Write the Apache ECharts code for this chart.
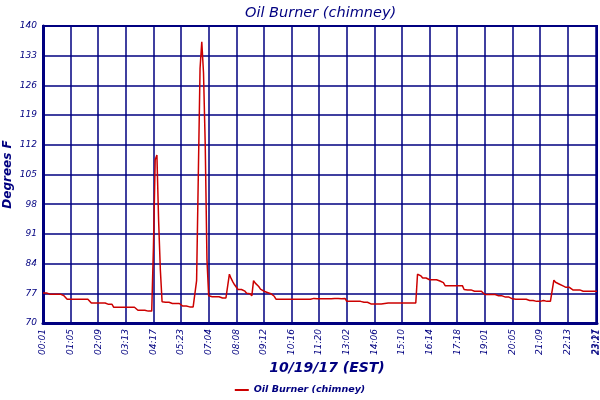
<!DOCTYPE html>
<html>
<head>
<meta charset="utf-8">
<title>Oil Burner (chimney)</title>
<script src="https://cdn.jsdelivr.net/npm/echarts@6.0.0/dist/echarts.min.js"></script>
<style>
  html, body { margin: 0; padding: 0; background: #fff; }
  #chart { width: 600px; height: 400px; }
</style>
</head>
<body>
<div id="chart"></div>
<script>
// tick labels on the x axis, one every 16 samples (4 min per sample), plus the last one
var tickLabels = ['00:01', '01:05', '02:09', '03:13', '04:17', '05:23', '07:04', '08:08', '09:12', '10:16',
  '11:20', '13:02', '14:06', '15:10', '16:14', '17:18', '19:01', '20:05', '21:09', '22:13', '23:17'];
var lastLabel = '23:21';
var samplesPerTick = 16;

// chimney temperature, degrees F
var temps = [
  77.1, 77.1, 77.1, 77.1, 76.8, 76.8, 76.8, 76.8, 76.8, 76.8, 76.8, 76.5, 76.5, 76.5, 75.6, 75.6,
  75.6, 75.6, 75.6, 75.6, 75.6, 75.6, 75.6, 75.6, 75.6, 75.6, 75.6, 75.3, 74.7, 74.7, 74.7, 74.7,
  74.7, 74.7, 74.7, 74.7, 74.7, 74.4, 74.4, 74.4, 74.4, 73.7, 73.7, 73.7, 73.7, 73.7, 73.7, 73.7,
  73.9, 73.7, 73.7, 73.7, 73.7, 73.7, 73.7, 73.0, 73.0, 73.0, 73.0, 73.0, 72.8, 72.8, 72.8, 72.8,
  88.0, 108.5, 109.6, 94.0, 82.5, 75.0, 74.9, 74.9, 74.9, 74.9, 74.6, 74.6, 74.6, 74.6, 74.6, 74.6,
  74.6, 74.0, 74.0, 74.0, 73.8, 73.8, 73.8, 73.8, 73.8, 80.0, 105.0, 130.0, 136.3, 129.0, 112.0, 85.0,
  76.4, 76.2, 76.2, 76.2, 76.2, 76.2, 76.2, 75.9, 75.9, 75.9, 75.9, 75.9, 81.5, 80.5, 79.7, 79.0,
  78.6, 77.9, 77.9, 77.9, 77.9, 77.5, 77.0, 76.9, 76.9, 76.4, 80.0, 79.4, 79.0, 78.6, 78.0, 77.7,
  77.5, 77.4, 77.2, 77.1, 76.9, 76.9, 76.3, 75.6, 75.6, 75.6, 75.6, 75.6, 75.6, 75.6, 75.6, 75.6,
  75.6, 75.6, 75.6, 75.6, 75.6, 75.6, 75.6, 75.6, 75.6, 75.6, 75.6, 75.6, 75.6, 75.8, 75.7, 75.7,
  75.7, 75.7, 75.7, 75.7, 75.7, 75.7, 75.8, 75.7, 75.8, 75.8, 75.8, 75.8, 75.8, 75.7, 75.8, 75.8,
  75.1, 75.1, 75.1, 75.1, 75.1, 75.1, 75.1, 75.1, 75.1, 75.1, 74.9, 74.9, 74.9, 74.5, 74.5, 74.5,
  74.5, 74.5, 74.5, 74.5, 74.5, 74.6, 74.6, 74.6, 74.7, 74.7, 74.7, 74.7, 74.7, 74.7, 74.7, 74.7,
  74.7, 74.7, 74.7, 74.7, 74.7, 74.7, 74.7, 74.7, 74.7, 81.5, 81.3, 81.1, 80.6, 80.6, 80.6, 80.2,
  80.2, 80.2, 80.2, 80.2, 80.2, 80.2, 79.9, 79.9, 79.5, 78.8, 78.8, 78.8, 78.8, 78.8, 78.8, 78.8,
  78.8, 78.8, 78.8, 78.8, 77.9, 77.8, 77.8, 77.8, 77.8, 77.5, 77.5, 77.5, 77.5, 77.5, 77.5, 77.5,
  76.7, 76.7, 76.7, 76.7, 76.7, 76.7, 76.7, 76.4, 76.4, 76.4, 76.4, 76.4, 76.1, 76.1, 76.1, 75.7,
  75.7, 75.7, 75.6, 75.6, 75.6, 75.6, 75.6, 75.6, 75.6, 75.7, 75.3, 75.3, 75.3, 75.3, 75.1, 75.1,
  75.1, 75.1, 75.3, 75.3, 75.1, 75.1, 75.1, 75.1, 80.1, 79.6, 79.2, 79.2, 78.8, 78.8, 78.8, 78.4,
  78.4, 78.4, 78.4, 77.8, 77.8, 77.8, 77.8, 77.8, 77.8, 77.5, 77.5, 77.5, 77.5, 77.5, 77.5, 77.5,
  77.5, 77.5
];

var seriesName = 'Oil Burner (chimney)';
var navy = '#000080';

// category per sample; only some of them get a label
var categories = temps.map(function (v, i) { return i; });
var lastIndex = temps.length - 1;
function labelAt(i) {
  if (i % samplesPerTick === 0) return tickLabels[i / samplesPerTick] || '';
  return '';
}
function isTick(i) {
  return i % samplesPerTick === 0 || i === lastIndex;
}

var labelStyle = {
  rotate: 90,
  margin: 6,
  color: navy,
  fontFamily: 'DejaVu Sans',
  fontStyle: 'italic',
  fontSize: 9,
  hideOverlap: false
};

var chart = echarts.init(document.getElementById('chart'), null, { renderer: 'canvas' });

var option = {
  backgroundColor: '#fff',
  animation: false,
  title: {
    text: 'Oil Burner (chimney)',
    left: 240,
    top: 1,
    textStyle: {
      color: navy,
      fontFamily: 'DejaVu Sans',
      fontStyle: 'italic',
      fontWeight: 'normal',
      fontSize: 14.5
    }
  },
  legend: {
    bottom: 0,
    left: 'center',
    itemWidth: 14,
    itemHeight: 2,
    icon: 'rect',
    itemGap: 4,
    textStyle: {
      color: navy,
      fontFamily: 'DejaVu Sans',
      fontStyle: 'italic',
      fontWeight: 'bold',
      fontSize: 9.5
    },
    data: [seriesName]
  },
  grid: {
    left: 43,
    right: 3,
    top: 26,
    bottom: 77,
    show: true,
    borderColor: navy,
    borderWidth: 2,
    outerBoundsMode: 'none'
  },
  xAxis: [{
    type: 'category',
    data: categories,
    boundaryGap: false,
    name: '10/19/17 (EST)',
    nameLocation: 'middle',
    nameGap: 38,
    nameMoveOverlap: false,
    nameTextStyle: {
      color: navy,
      fontFamily: 'DejaVu Sans',
      fontStyle: 'italic',
      fontWeight: 'bold',
      fontSize: 14,
      padding: [0, 0, 0, 14]
    },
    axisLine: { lineStyle: { color: navy, width: 3 } },
    axisTick: { show: false },
    axisLabel: Object.assign({}, labelStyle, {
      interval: function (i) { return i % samplesPerTick === 0; },
      showMinLabel: true,
      showMaxLabel: true,
      formatter: function (v, i) { return labelAt(i); }
    }),
    splitLine: {
      show: true,
      interval: function (i) { return isTick(i); },
      lineStyle: { color: navy, width: 1.5 }
    }
  }, {
    // second copy of the axis only to print the last label, which overlaps 23:17
    type: 'category',
    data: categories,
    boundaryGap: false,
    position: 'bottom',
    axisLine: { show: false },
    axisTick: { show: false },
    splitLine: { show: false },
    axisLabel: Object.assign({}, labelStyle, {
      interval: function (i) { return i === lastIndex; },
      showMinLabel: false,
      showMaxLabel: true,
      formatter: function (v, i) { return i === lastIndex ? lastLabel : ''; }
    })
  }],
  yAxis: {
    type: 'value',
    min: 70,
    max: 140,
    interval: 7,
    name: 'Degrees F',
    nameLocation: 'middle',
    nameGap: 29,
    nameMoveOverlap: false,
    nameTextStyle: {
      color: navy,
      fontFamily: 'DejaVu Sans',
      fontStyle: 'italic',
      fontWeight: 'bold',
      fontSize: 12
    },
    axisLine: { show: true, lineStyle: { color: navy, width: 3 } },
    axisTick: { show: true, length: 0 },
    axisLabel: {
      margin: 6,
      color: navy,
      fontFamily: 'DejaVu Sans',
      fontStyle: 'italic',
      fontSize: 9
    },
    splitLine: { show: true, lineStyle: { color: navy, width: 1.5 } }
  },
  series: [{
    name: seriesName,
    type: 'line',
    xAxisIndex: 0,
    data: temps,
    showSymbol: false,
    symbol: 'none',
    color: '#cc0000',
    lineStyle: { color: '#cc0000', width: 1.5 }
  }]
};

chart.setOption(option);
</script>
</body>
</html>
